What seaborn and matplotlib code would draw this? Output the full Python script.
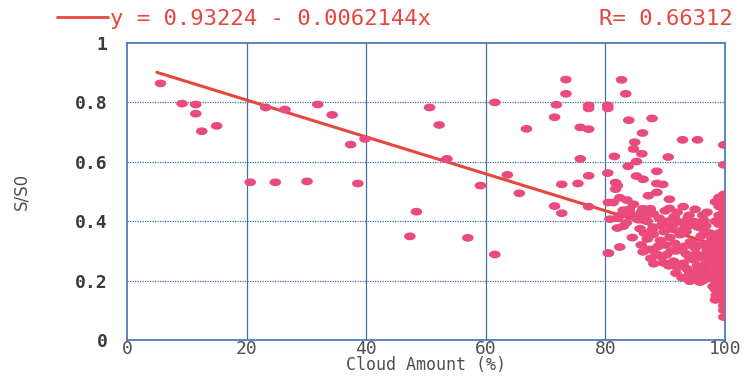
import matplotlib
matplotlib.use("Agg")
import matplotlib.pyplot as plt
from matplotlib.path import Path
from matplotlib.lines import Line2D
import seaborn as sns
import numpy as np
import pandas as pd

# regression shown in the header
intercept = 0.93224
slope = -0.0062144
r_value = 0.66312
line_x = [5, 99]

# cloud amount (%) and S/S0
cloud = [5.6, 9.2, 11.5, 11.5, 12.5, 15.0, 20.6, 23.2, 24.8, 26.4, 30.1, 31.9,
         34.3, 37.4, 38.6, 39.8, 47.3, 48.4, 50.6, 52.2, 53.5, 57.0, 59.1, 61.5,
         61.5, 63.6, 65.6, 66.8, 71.5, 71.8, 71.5, 72.7, 72.7, 73.4, 73.4, 75.8,
         77.2, 75.8, 75.4, 77.2, 77.2, 77.2, 77.2, 80.4, 80.4, 80.4, 80.5, 81.5,
         82.7, 83.4, 83.9, 87.8, 86.2, 84.9, 84.7, 86.1, 85.2, 83.8, 90.5, 92.9,
         95.4, 99.8, 99.8, 88.6, 85.2, 86.3, 81.7, 82.0, 81.7, 88.6, 89.6, 88.6,
         87.2, 82.4, 83.6, 80.5, 81.3, 84.7, 90.7, 90.7, 93.0, 86.3, 87.5, 83.0,
         84.1, 94.0, 96.3,
         # dense cluster
         80.8, 82.0, 85.5, 87.0, 89.0, 90.5, 92.2, 93.3, 95.0, 96.5,
         84.0, 86.0, 88.0, 90.0, 92.0, 95.0, 97.0,
         83.0, 82.0, 88.0, 91.0, 94.0, 96.5,
         86.5, 87.0, 88.0, 89.2, 90.8, 92.5, 94.2, 96.0, 97.5, 84.5, 93.5,
         80.5, 82.4, 86.3, 87.4, 88.5, 90.2, 91.8, 93.5, 95.0, 97.0,
         94.1, 95.8, 97.5, 98.6,
         88.1, 89.7, 91.4, 93.0, 94.7, 96.5,
         94.1, 95.8, 97.3, 98.9,
         94.1, 95.8, 98.0, 99.0,
         95.8, 98.0, 98.5, 99.0,
         82.5, 83.5, 85.0, 86.8, 89.5, 91.5, 93.8, 96.8,
         85.8, 87.8, 89.8, 91.2, 92.8, 95.5, 97.8,
         86.0, 88.8, 90.0, 91.6, 93.2, 94.8, 96.2, 97.6,
         87.6, 89.4, 91.0, 92.4, 95.2, 96.6, 97.9,
         90.6, 92.0, 93.6, 95.4, 96.9, 98.2,
         91.8, 93.9, 95.6, 97.0, 98.3,
         92.8, 94.6, 96.3, 97.6,
         # column at 100 %
         99.8, 99.8, 99.8, 99.8, 99.8, 99.8, 99.8, 99.8, 99.8, 99.8, 99.8, 99.8,
         99.8, 99.8, 99.8, 99.8, 99.8, 99.8, 99.8, 99.8, 99.8, 99.8, 99.8, 99.8,
         99.8, 99.8, 99.8, 99.8,
         99.0, 99.0, 99.0, 99.0, 99.0, 99.0, 99.0, 99.0, 99.0, 99.0,
         98.4, 98.4, 98.4, 98.4, 98.4, 98.4, 98.4, 98.4]
ratio = [0.864, 0.796, 0.793, 0.762, 0.703, 0.721, 0.531, 0.783, 0.531, 0.776, 0.534, 0.793,
         0.758, 0.658, 0.527, 0.677, 0.349, 0.432, 0.783, 0.724, 0.610, 0.344, 0.520, 0.800,
         0.288, 0.556, 0.494, 0.711, 0.750, 0.792, 0.451, 0.427, 0.524, 0.877, 0.829, 0.716,
         0.710, 0.610, 0.527, 0.553, 0.449, 0.790, 0.780, 0.790, 0.780, 0.562, 0.292, 0.618,
         0.876, 0.829, 0.740, 0.746, 0.697, 0.666, 0.643, 0.627, 0.601, 0.585, 0.616, 0.674,
         0.674, 0.657, 0.590, 0.568, 0.552, 0.541, 0.530, 0.520, 0.508, 0.527, 0.524, 0.497,
         0.486, 0.479, 0.471, 0.463, 0.463, 0.457, 0.474, 0.443, 0.449, 0.442, 0.442, 0.437,
         0.427, 0.420, 0.420,
         0.407, 0.410, 0.405, 0.400, 0.410, 0.400, 0.398, 0.390, 0.398, 0.402,
         0.440, 0.430, 0.425, 0.435, 0.430, 0.440, 0.430,
         0.383, 0.377, 0.380, 0.375, 0.385, 0.370,
         0.360, 0.340, 0.355, 0.335, 0.345, 0.355, 0.330, 0.350, 0.360, 0.345, 0.365,
         0.293, 0.313, 0.297, 0.305, 0.290, 0.287, 0.300, 0.290, 0.310, 0.300,
         0.277, 0.277, 0.275, 0.285,
         0.257, 0.260, 0.265, 0.258, 0.270, 0.250,
         0.228, 0.220, 0.232, 0.222,
         0.198, 0.195, 0.205, 0.190,
         0.210, 0.180, 0.150, 0.165,
         0.420, 0.395, 0.415, 0.420, 0.390, 0.415, 0.410, 0.385,
         0.375, 0.370, 0.365, 0.385, 0.370, 0.380, 0.345,
         0.320, 0.315, 0.320, 0.325, 0.315, 0.325, 0.320, 0.330,
         0.275, 0.280, 0.300, 0.310, 0.290, 0.285, 0.315,
         0.250, 0.245, 0.240, 0.250, 0.260, 0.265,
         0.225, 0.215, 0.240, 0.215, 0.240,
         0.210, 0.205, 0.200, 0.215,
         0.490, 0.475, 0.460, 0.445, 0.430, 0.415, 0.400, 0.385, 0.370, 0.355, 0.340, 0.325,
         0.310, 0.295, 0.280, 0.265, 0.250, 0.235, 0.220, 0.205, 0.190, 0.175, 0.160, 0.145,
         0.130, 0.115, 0.100, 0.077,
         0.480, 0.450, 0.420, 0.390, 0.360, 0.330, 0.300, 0.270, 0.240, 0.210,
         0.465, 0.400, 0.345, 0.290, 0.245, 0.200, 0.170, 0.135]

x_ticks = [0, 20, 40, 60, 80, 100]
y_ticks = [0, 0.2, 0.4, 0.6, 0.8, 1]
y_ticklabels = ["0", "0.2", "0.4", "0.6", "0.8", "1"]

df = pd.DataFrame({"cloud": cloud, "ratio": ratio})
fit = pd.DataFrame({"x": line_x, "y": [intercept + slope * v for v in line_x]})

sns.set_style("white")
mono = "DejaVu Sans Mono"
blue = "#3f72aa"
pink = "#ea4a7c"
red = "#e5463e"

fig = plt.figure(figsize=(7.46, 3.78), dpi=100)
ax = fig.add_axes([127 / 746, 38 / 378, 598 / 746, 297 / 378])

# flat ellipse marker like the original dots
t = np.linspace(0, 2 * np.pi, 40)
dot = Path(np.column_stack([1.5 * np.cos(t), np.sin(t)]), closed=True)

sns.lineplot(data=fit, x="x", y="y", ax=ax, color=red, linewidth=2.2, zorder=2)
sns.scatterplot(data=df, x="cloud", y="ratio", ax=ax, marker=dot, s=70,
                color=pink, edgecolor="none", linewidth=0, zorder=3)

ax.set_xlim(0, 100)
ax.set_ylim(0, 1)
ax.set_xticks(x_ticks)
ax.set_yticks(y_ticks)
ax.set_xticklabels([str(v) for v in x_ticks], family=mono, fontsize=13, color="#505050")
ax.set_yticklabels(y_ticklabels, family=mono, fontsize=13, fontweight="bold", color="#3a3a3a")
ax.tick_params(axis="both", length=0)
ax.tick_params(axis="y", pad=14)
ax.tick_params(axis="x", pad=0)

for v in x_ticks[1:-1]:
    ax.axvline(v, color=blue, linewidth=0.9, zorder=1)
for v in y_ticks[1:-1]:
    ax.axhline(v, color=blue, linewidth=0.9, linestyle=(0, (1, 1)), zorder=1)
for sp in ax.spines.values():
    sp.set_color(blue)
    sp.set_linewidth(1.2)

ax.set_xlabel("Cloud Amount (%)", family=mono, fontsize=12, color="#505050")
ax.xaxis.set_label_coords(0.5, -0.055)
ax.set_ylabel("S/S0", fontsize=12, color="#505050", labelpad=32)

handle = Line2D([], [], color=red, linewidth=2)
fig.legend([handle], ["y = 0.93224 - 0.0062144x"], loc="center left",
           bbox_to_anchor=(57 / 746, 1 - 19 / 378), frameon=False,
           borderpad=0, borderaxespad=0, handlelength=2.3, handletextpad=0.1,
           prop={"family": mono, "size": 16}, labelcolor=red)
fig.text(733 / 746, 1 - 19 / 378, "R= " + str(r_value), family=mono, fontsize=16,
         color=red, ha="right", va="center")

fig.savefig("out.png", dpi=100)
